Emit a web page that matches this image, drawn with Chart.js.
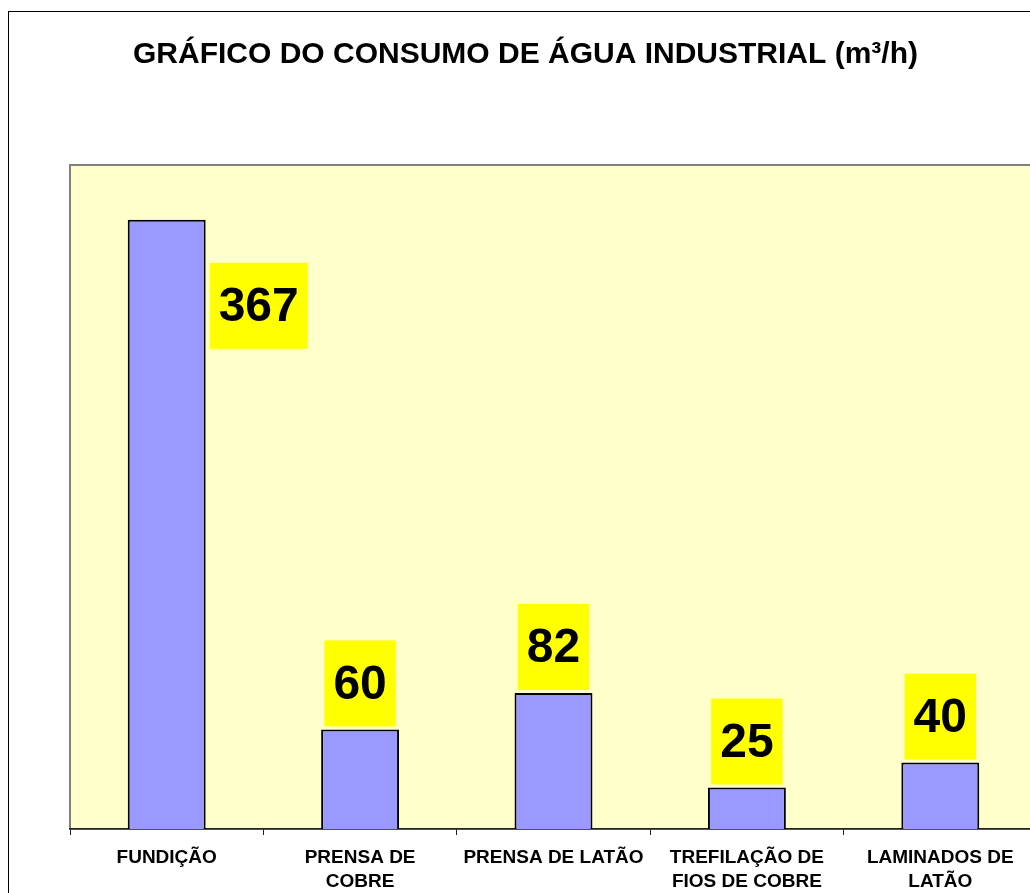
<!DOCTYPE html>
<html lang="pt">
<head>
<meta charset="utf-8">
<title>Consumo de água industrial</title>
<script src="https://cdn.jsdelivr.net/npm/chart.js@4/dist/chart.umd.min.js"></script>
<style>
  html, body { margin: 0; padding: 0; background: #fff; overflow: hidden; }
  #grafico { position: absolute; left: 0; top: 0; }
</style>
</head>
<body>
<canvas id="grafico" width="1037" height="893"></canvas>
<script>
// Dados do gráfico
const titulo = "GRÁFICO DO CONSUMO DE ÁGUA INDUSTRIAL (m³/h)";
const setores = [
  ["FUNDIÇÃO"],
  ["PRENSA DE", "COBRE"],
  ["PRENSA DE LATÃO"],
  ["TREFILAÇÃO DE", "FIOS DE COBRE"],
  ["LAMINADOS DE", "LATÃO"]
];
const consumo = [367, 60, 82, 25, 40];
const eixoMin = 0;
const eixoMax = 400;

const fonte = "'Liberation Sans', Arial, sans-serif";

// Fundo amarelo da área do gráfico + moldura externa
const fundoPlugin = {
  id: "fundo",
  beforeDraw(chart) {
    const ctx = chart.ctx;
    const a = chart.chartArea;
    ctx.save();
    ctx.strokeStyle = "#000";
    ctx.lineWidth = 1;
    ctx.strokeRect(8.5, 11.5, 3000, 3000);
    ctx.fillStyle = "#FFFFCC";
    ctx.fillRect(a.left, a.top, a.right - a.left, a.bottom - a.top);
    ctx.strokeStyle = "#808080";
    ctx.lineWidth = 2;
    ctx.strokeRect(a.left, a.top, a.right - a.left, a.bottom - a.top);
    ctx.restore();
  }
};

// Rótulos de valor dentro de caixas amarelas
const rotulosPlugin = {
  id: "rotulos",
  afterDatasetsDraw(chart) {
    const ctx = chart.ctx;
    const area = chart.chartArea;
    const meta = chart.getDatasetMeta(0);
    ctx.save();
    ctx.font = "bold 48px " + fonte;
    ctx.textAlign = "center";
    ctx.textBaseline = "middle";
    meta.data.forEach((barra, i) => {
      const texto = String(consumo[i]);
      const larg = ctx.measureText(texto).width + 18;
      const alt = 86;
      let x, y;
      if (barra.y - alt - 3 < area.top) {
        // não cabe em cima: vai ao lado direito da barra
        x = barra.x + barra.width / 2 + 4;
        y = barra.y + 43;
      } else {
        x = barra.x - larg / 2;
        y = barra.y - 3 - alt;
      }
      ctx.fillStyle = "#FFFF00";
      ctx.fillRect(x, y, larg, alt);
      ctx.fillStyle = "#000";
      ctx.fillText(texto, x + larg / 2, y + alt / 2 + 2);
    });
    ctx.restore();
  }
};

new Chart(document.querySelector("#grafico"), {
  type: "bar",
  data: {
    labels: setores,
    datasets: [{
      data: consumo,
      backgroundColor: "#9999FF",
      borderColor: "#000",
      borderWidth: 2,
      categoryPercentage: 1,
      barPercentage: 0.403
    }]
  },
  options: {
    responsive: false,
    animation: false,
    devicePixelRatio: 1,
    layout: { padding: { left: 14, right: 0, top: 0, bottom: 0 } },
    plugins: {
      legend: { display: false },
      tooltip: { enabled: false },
      title: {
        display: true,
        text: titulo,
        color: "#000",
        font: { family: fonte, size: 30, weight: "bold", lineHeight: 1.2 },
        padding: { top: 37, bottom: 92 }
      }
    },
    scales: {
      x: {
        grid: {
          offset: true,
          drawOnChartArea: false,
          drawTicks: true,
          tickLength: 6,
          color: "#222"
        },
        border: { display: true, color: "#222", width: 1.5 },
        ticks: {
          color: "#000",
          padding: 11,
          maxRotation: 0,
          autoSkip: false,
          font: { family: fonte, size: 19, weight: "bold", lineHeight: 1.26 }
        },
        afterFit(scale) { scale.height = 64; }
      },
      y: {
        min: eixoMin,
        max: eixoMax,
        grid: { display: false },
        border: { display: false },
        ticks: { display: false },
        afterFit(scale) { scale.width = 56; }
      }
    }
  },
  plugins: [fundoPlugin, rotulosPlugin]
});
</script>
</body>
</html>
